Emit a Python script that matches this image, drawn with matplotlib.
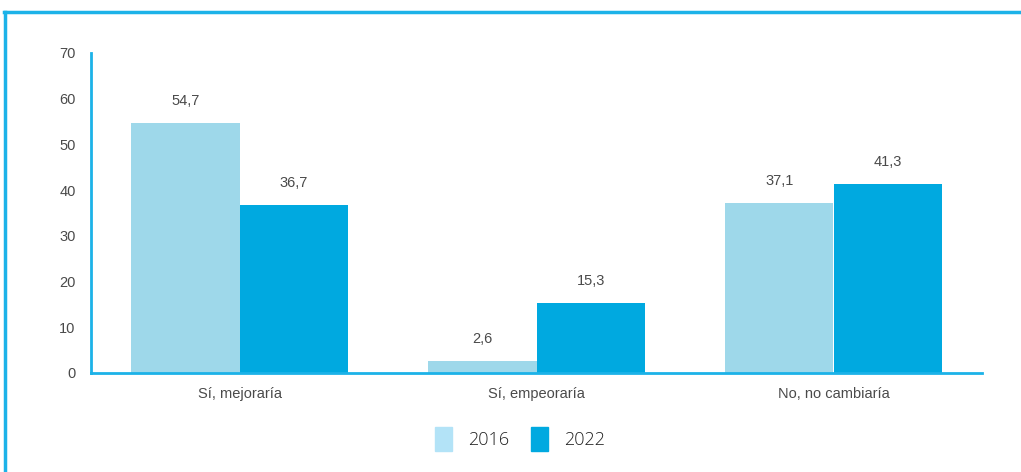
import matplotlib
matplotlib.use("Agg")
import matplotlib.pyplot as plt
from matplotlib.lines import Line2D
from matplotlib.patches import Patch
import numpy as np

plt.rcParams["font.family"] = ["Liberation Sans", "DejaVu Sans"]

categories = ["Sí, mejoraría", "Sí, empeoraría", "No, no cambiaría"]
series_names = ["2016", "2022"]
values_2016 = [54.7, 2.6, 37.1]
values_2022 = [36.7, 15.3, 41.3]
yticks = [0, 10, 20, 30, 40, 50, 60, 70]

c2016 = "#9ed8ea"
c2022 = "#00a9e0"
c2016_leg = "#b3e3f7"
cline = "#1cb2e8"
ctext = "#4a4a4a"

W, H = 1021, 472
fig = plt.figure(figsize=(W / 100, H / 100), dpi=100)
ax = fig.add_axes([91 / W, 1 - 373 / H, (982 - 91) / W, (373 - 53) / H])

x = np.arange(len(categories))
w = 0.365
b1 = ax.bar(x - w / 2, values_2016, w, color=c2016)
b2 = ax.bar(x + w / 2, values_2022, w, color=c2022)

def fmt(v):
    return f"{v:.1f}".replace(".", ",")

for bars, vals in ((b1, values_2016), (b2, values_2022)):
    for r, v in zip(bars, vals):
        ax.annotate(fmt(v), (r.get_x() + r.get_width() / 2, v),
                    xytext=(0, 11), textcoords="offset points",
                    ha="center", va="bottom", fontsize=10.5, color=ctext)

ax.set_xlim(-0.5, 2.5)
ax.set_ylim(0, 70)
ax.set_yticks(yticks)
ax.set_xticks(x)
ax.set_xticklabels(categories)
ax.tick_params(axis="both", length=0, labelsize=10.5, colors=ctext)
ax.tick_params(axis="y", pad=11)
ax.tick_params(axis="x", pad=10)
for s in ("top", "right"):
    ax.spines[s].set_visible(False)
for s in ("left", "bottom"):
    ax.spines[s].set_color(cline)
    ax.spines[s].set_linewidth(2)

handles = [Patch(color=c2016_leg), Patch(color=c2022)]
leg = fig.legend(handles, series_names, loc="center", bbox_to_anchor=(520 / W, 1 - 439 / H),
                 ncol=2, frameon=False, handlelength=0.95, handleheight=1.6,
                 columnspacing=1.2, handletextpad=0.9,
                 prop={"family": "Open Sans", "size": 13, "weight": "light"})
for t in leg.get_texts():
    t.set_color("#222222")

fig.add_artist(Line2D([4 / W, 1], [1 - 12 / H, 1 - 12 / H], color=cline, lw=2.5,
                      transform=fig.transFigure))
fig.add_artist(Line2D([5 / W, 5 / W], [0, 1 - 12 / H], color=cline, lw=2.5,
                      transform=fig.transFigure))

fig.savefig("out.png", dpi=100)
